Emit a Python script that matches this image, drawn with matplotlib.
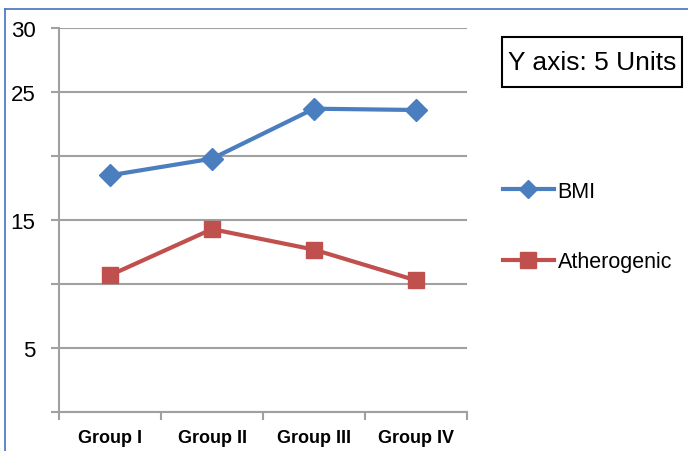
import numpy as np
import matplotlib.pyplot as plt
from matplotlib.lines import Line2D
from matplotlib.patches import Rectangle

plt.rcParams['font.family'] = ['Liberation Sans', 'DejaVu Sans']

# group means read per category
groups = ['Group I', 'Group II', 'Group III', 'Group IV']
bmi = [18.5, 19.8, 23.7, 23.6]
atherogenic = [10.7, 14.3, 12.7, 10.3]

y_ticks = [0, 5, 10, 15, 20, 25, 30]
y_labels = ['', '5', '', '15', '', '25', '30']

blue = '#4A7EBF'
red = '#C0504D'
grey = '#A0A0A0'

W, H = 688, 452
fig = plt.figure(figsize=(W/100, H/100), dpi=100)
ax = fig.add_axes([59/W, 1-413.3/H, (467-59)/W, (413.3-29)/H])

x = np.arange(len(groups)) + 0.5
ax.plot(x, bmi, color=blue, lw=3, marker='D', ms=11, label='BMI', zorder=3)
ax.plot(x, atherogenic, color=red, lw=3, marker='s', ms=12, label='Atherogenic', zorder=3)

ax.set_xlim(0, len(groups))
ax.set_ylim(0, 30)
ax.set_yticks(y_ticks)
ax.set_yticklabels(y_labels, fontsize=16)
ax.tick_params(axis='y', length=6, width=1.5, color=grey, pad=11)
ax.yaxis.grid(True, color=grey, lw=1.5)
ax.set_axisbelow(True)

# category boundaries as major ticks, names centred as minor ticks
ax.set_xticks(np.arange(len(groups) + 1))
ax.set_xticklabels([])
ax.tick_params(axis='x', which='major', length=6, width=1.5, color=grey)
ax.set_xticks(x, minor=True)
ax.set_xticklabels(groups, minor=True, fontsize=13, fontweight='bold')
ax.tick_params(axis='x', which='minor', length=0, pad=12)

for s in ['top', 'right']:
    ax.spines[s].set_visible(False)
for s in ['left', 'bottom']:
    ax.spines[s].set_color(grey)
    ax.spines[s].set_linewidth(1.5)

# legend entries
handles = [Line2D([], [], color=blue, lw=3, marker='D', ms=9),
           Line2D([], [], color=red, lw=3, marker='s', ms=11)]
fig.legend(handles, ['BMI', 'Atherogenic'], loc='upper left',
           bbox_to_anchor=(494/W, 1-173/H), frameon=False, fontsize=15.5,
           handlelength=2.4, handletextpad=0.15, labelspacing=2.3,
           borderaxespad=0)

fig.add_artist(Rectangle((502/W, 1-88/H), 180/W, 50/H, transform=fig.transFigure,
                         fc='white', ec='black', lw=1.5))
fig.text(592/W, 1-63/H, 'Y axis: 5 Units', fontsize=19, ha='center', va='center')

# frame along the top and left edges
fig.add_artist(Line2D([5/W, 1], [1-10/H, 1-10/H], color='#4472C4', lw=1.2))
fig.add_artist(Line2D([5/W, 5/W], [0, 1-10/H], color='#4472C4', lw=1.2))

fig.savefig('out.png', dpi=100)
